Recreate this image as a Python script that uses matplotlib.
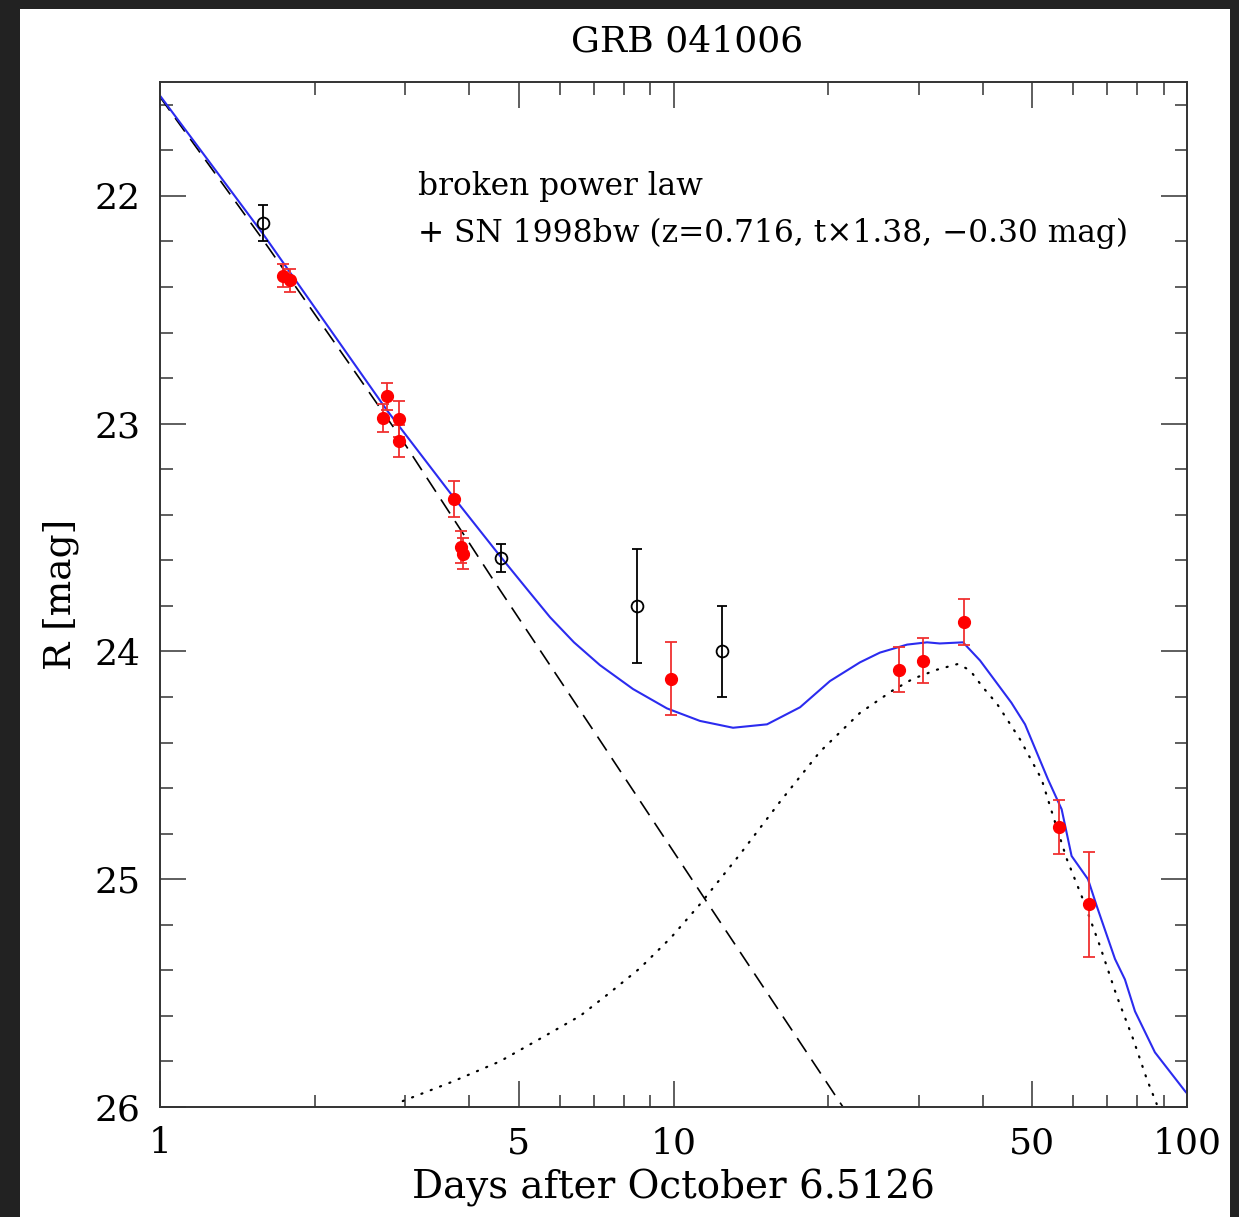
import numpy as np
import matplotlib
matplotlib.use("Agg")
import matplotlib.pyplot as plt
from matplotlib.patches import Rectangle
from matplotlib.ticker import FixedLocator, NullFormatter

plt.rcParams['font.family'] = ['DejaVu Serif', 'DejaVu Sans']

# open circles (black)
open_t = [1.587, 4.61, 8.48, 12.42]
open_mag = [22.12, 23.59, 23.80, 24.00]
open_err = [0.08, 0.06, 0.25, 0.20]

# filled points (red)
red_t = [1.736, 1.791, 2.72, 2.77, 2.92, 2.92, 3.737, 3.86, 3.89, 9.87,
         27.5, 30.66, 36.84, 56.3, 64.3]
red_mag = [22.35, 22.37, 22.975, 22.88, 22.98, 23.075, 23.33, 23.54, 23.57, 24.12,
           24.08, 24.04, 23.87, 24.77, 25.11]
red_err = [0.05, 0.05, 0.06, 0.06, 0.08, 0.07, 0.08, 0.07, 0.07, 0.16,
           0.10, 0.10, 0.10, 0.12, 0.23]

# broken power law (dashed)
pl_t = [1.0, 1.587, 2.934, 4.451, 7.19, 11.52, 21.38]
pl_mag = [21.566, 22.193, 23.057, 23.684, 24.39, 25.088, 26.0]

# SN 1998bw component (dotted)
sn_t = [2.97, 3.7, 4.59, 5.5, 6.58, 7.5, 8.61, 9.9, 11.26, 13.48, 16.12, 19.29,
        23.07, 26.77, 29.27, 32.6, 35.8, 37.8, 40.06, 42.66, 47.3, 52.1, 55.35,
        58.3, 62.7, 67.7, 72.98, 78.5, 83.5, 87.3]
sn_mag = [25.974, 25.89, 25.80, 25.70, 25.60, 25.50, 25.39, 25.255, 25.11, 24.89,
          24.66, 24.44, 24.27, 24.17, 24.12, 24.08, 24.055, 24.083, 24.158, 24.23,
          24.386, 24.561, 24.75, 24.91, 25.088, 25.294, 25.513, 25.70, 25.877, 25.987]

# total model (blue)
tot_t = [1.0, 1.587, 2.764, 3.72, 4.59, 5.2, 5.75, 6.4, 7.19, 8.34, 9.71, 11.26,
         13.06, 15.21, 17.64, 20.17, 23.07, 25.24, 28.5, 31.17, 33.0, 36.63, 39.54,
         42.66, 45.5, 48.37, 53.6, 57.0, 59.6, 64.15, 66.7, 72.4, 75.7, 79.2, 86.6,
         99.1, 100.0]
tot_mag = [21.56, 22.167, 22.94, 23.32, 23.58, 23.73, 23.85, 23.96, 24.06, 24.165,
           24.25, 24.305, 24.335, 24.32, 24.245, 24.13, 24.048, 24.005, 23.97, 23.96,
           23.965, 23.96, 24.04, 24.14, 24.225, 24.32, 24.561, 24.693, 24.898, 25.0,
           25.117, 25.35, 25.44, 25.58, 25.76, 25.93, 25.94]

fig = plt.figure(figsize=(12.39, 12.17), dpi=100, facecolor='#222222')
fig.patches.append(Rectangle((20 / 1239, 0), 1210 / 1239, 1 - 9 / 1217,
                             transform=fig.transFigure, facecolor='white',
                             edgecolor='none', zorder=-5))
ax = fig.add_axes([160 / 1239, 1 - 1107 / 1217, 1027 / 1239, 1025 / 1217])
ax.set_zorder(1)

ax.plot(pl_t, pl_mag, color='black', lw=1.2, dashes=(10, 5.5))
ax.plot(sn_t, sn_mag, color='black', lw=1.6, dashes=(0.5, 4), dash_capstyle='round')
ax.plot(tot_t, tot_mag, color='#2b2bef', lw=1.5)

ax.errorbar(red_t, red_mag, yerr=red_err, fmt='o', color='red', ms=8.5,
            ecolor='#f03030', elinewidth=1.3, capsize=4.3, capthick=1.3, zorder=4)
ax.errorbar(open_t, open_mag, yerr=open_err, fmt='o', color='black', mfc='none',
            ms=8.5, mew=1.3, elinewidth=1.3, capsize=3.8, capthick=1.3, zorder=4)

ax.set_xscale('log')
ax.set_xlim(1, 100)
ax.set_ylim(26, 21.5)

ax.xaxis.set_major_locator(FixedLocator([1, 5, 10, 50, 100]))
ax.set_xticklabels(['1', '5', '10', '50', '100'])
ax.xaxis.set_minor_locator(FixedLocator([2, 3, 4, 6, 7, 8, 9, 20, 30, 40, 60, 70, 80, 90]))
ax.xaxis.set_minor_formatter(NullFormatter())
ax.set_yticks([22, 23, 24, 25, 26])
ax.set_yticks(np.arange(21.6, 26.0, 0.2), minor=True)

ax.tick_params(which='both', direction='in', top=True, right=True, color='#333333',
               width=1.1)
ax.tick_params(which='major', length=19, labelsize=26, pad=14)
ax.tick_params(which='minor', length=9)
for s in ax.spines.values():
    s.set_linewidth(1.4)
    s.set_color('#333333')

ax.set_xlabel('Days after October 6.5126', fontsize=28, labelpad=6)
ax.set_ylabel('R [mag]', fontsize=27, labelpad=11)
ax.set_title('GRB 041006', fontsize=26, pad=22, x=0.513)

ax.text(0.2512, 0.8976, 'broken power law', transform=ax.transAxes,
        fontsize=22.5, va='center', ha='left')
ax.text(0.2512, 0.8527, '+ SN 1998bw (z=0.716, t\u00d71.38, \u22120.30 mag)',
        transform=ax.transAxes, fontsize=22.5, va='center', ha='left')

fig.savefig('out.png', dpi=100, facecolor=fig.get_facecolor())
